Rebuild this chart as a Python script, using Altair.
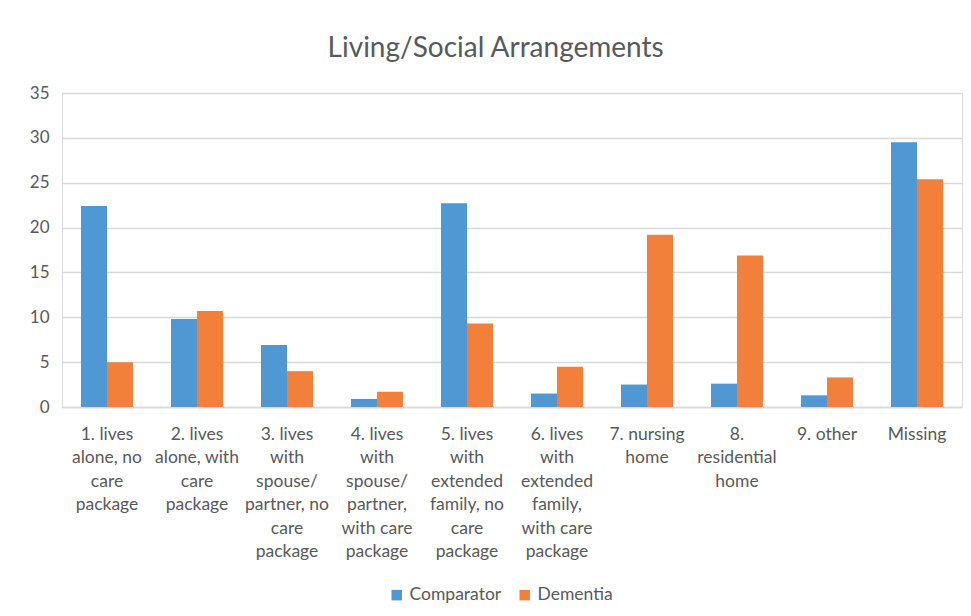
import altair as alt
import pandas as pd

categories = [
    "1. lives|alone, no|care|package",
    "2. lives|alone, with|care|package",
    "3. lives|with|spouse/|partner, no|care|package",
    "4. lives|with|spouse/|partner,|with care|package",
    "5. lives|with|extended|family, no|care|package",
    "6. lives|with|extended|family,|with care|package",
    "7. nursing|home",
    "8.|residential|home",
    "9. other",
    "Missing",
]
comparator = [22.4, 9.8, 6.9, 0.9, 22.7, 1.5, 2.5, 2.6, 1.3, 29.5]
dementia = [5.0, 10.7, 4.0, 1.7, 9.3, 4.5, 19.2, 16.9, 3.3, 25.4]
series = ["Comparator", "Dementia"]
colors = ["#4F98D3", "#F2803A"]

rows = []
for c, a, b in zip(categories, comparator, dementia):
    rows.append({"category": c, "series": "Comparator", "value": a})
    rows.append({"category": c, "series": "Dementia", "value": b})
df = pd.DataFrame(rows)

FONT = "Lato"
TXT = "#595959"

chart = alt.Chart(df).mark_bar().encode(
    x=alt.X("category:N", sort=categories, title=None,
            scale=alt.Scale(paddingInner=0.4222, paddingOuter=0.2111),
            axis=alt.Axis(labelExpr="split(datum.label, '|')", labelAngle=0,
                          labelBaseline="top", labelPadding=18, labelLineHeight=23.5,
                          labelFontSize=17.5, labelColor=TXT, labelFont=FONT,
                          labelOverlap=False, labelBound=False, labelLimit=200,
                          ticks=False, domainColor="#D9D9D9", domainWidth=1.5)),
    xOffset=alt.XOffset("series:N", sort=series),
    y=alt.Y("value:Q", title=None,
            scale=alt.Scale(domain=[0, 35]),
            axis=alt.Axis(values=[0, 5, 10, 15, 20, 25, 30, 35], domain=False, ticks=False,
                          labelPadding=13, labelFontSize=17, labelColor=TXT, labelFont=FONT,
                          gridColor="#D9D9D9", gridWidth=1.3)),
    color=alt.Color("series:N", sort=series,
                    scale=alt.Scale(domain=series, range=colors),
                    legend=alt.Legend(title=None, orient="none", legendX=326, legendY=493,
                                      direction="horizontal",
                                      symbolType="square", symbolSize=110, symbolStrokeWidth=0,
                                      labelFontSize=17.5, labelColor=TXT, labelFont=FONT,
                                      columnPadding=14)),
).properties(
    width=900,
    height=314,
    title=alt.TitleParams("Living/Social Arrangements", fontSize=28, font=FONT,
                          fontWeight="normal", color=TXT, anchor="middle",
                          frame="bounds", offset=21),
    autosize=alt.AutoSizeParams(type="none"),
    padding={"left": 54, "top": 85, "right": 1, "bottom": 200},
).configure_view(stroke=None).configure(background="white")

chart.save("out.html", embed_options={"renderer": "svg", "actions": False})
